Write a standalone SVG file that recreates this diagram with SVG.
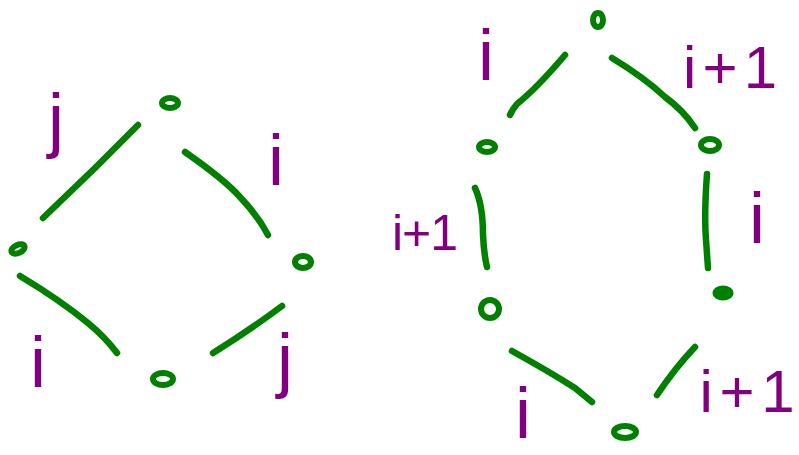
<svg xmlns="http://www.w3.org/2000/svg" width="799" height="455" viewBox="0 0 799 455">
<style>
.node{fill:none;stroke:#008000;stroke-width:6}
.solid{fill:#008000;stroke:#008000;stroke-width:3}
.edge{fill:none;stroke:#008000;stroke-width:6.5;stroke-linecap:round;stroke-linejoin:round}
.lbl{fill:#800080;font-family:"Liberation Sans",Arial,sans-serif;text-anchor:middle}
.big{font-size:72px}
.mid{font-size:60px}
.sm{font-size:50px}
</style>
<rect width="799" height="455" fill="#ffffff"/>
<g id="connectors">
  <path class="edge" d="M138,125 L95,168 L43,218"/>
  <path class="edge" d="M185,152 Q225,180 240,197 Q258,216 268,235"/>
  <path class="edge" d="M20,276 Q60,300 88,323 Q105,337 117,353"/>
  <path class="edge" d="M282,306 Q250,330 213,353"/>
  <path class="edge" d="M565,55 Q537,88 517,104 Q512,110 510,115"/>
  <path class="edge" d="M612,58 Q645,78 665,97 Q683,110 695,128"/>
  <path class="edge" d="M475,188 Q483,205 483,235 Q484,255 487,267"/>
  <path class="edge" d="M707,174 Q704,215 706,240 L708,268"/>
  <path class="edge" d="M512,351 Q550,372 575,388 L592,402"/>
  <path class="edge" d="M695,347 Q675,368 657,395"/>
</g>
<g id="L-top"><ellipse class="node" cx="170" cy="103" rx="8" ry="5"/></g>
<g id="L-left"><ellipse class="node" cx="18" cy="249" rx="7" ry="4" transform="rotate(-25 18 249)"/></g>
<g id="L-right"><ellipse class="node" cx="303" cy="262" rx="8" ry="6"/></g>
<g id="L-bottom"><ellipse class="node" cx="163" cy="379" rx="10" ry="6"/></g>
<g id="R-top"><ellipse class="node" cx="598" cy="20" rx="5" ry="7"/></g>
<g id="R-upper-left"><ellipse class="node" cx="487" cy="147" rx="8" ry="5"/></g>
<g id="R-upper-right"><ellipse class="node" cx="710" cy="145" rx="9" ry="6"/></g>
<g id="R-lower-left"><ellipse class="node" cx="490" cy="309" rx="9" ry="9"/></g>
<g id="R-lower-right"><ellipse class="solid" cx="723" cy="293" rx="9" ry="6"/></g>
<g id="R-bottom"><ellipse class="node" cx="625" cy="432" rx="11" ry="6"/></g>
<g id="labels">
  <text class="lbl big" x="56" y="144">j</text>
  <text class="lbl big" x="276" y="185">i</text>
  <text class="lbl big" x="38" y="387">i</text>
  <text class="lbl big" x="285" y="384">j</text>
  <text class="lbl big" x="486" y="80">i</text>
  <text class="lbl mid" x="730" y="88" textLength="94" lengthAdjust="spacing">i+1</text>
  <text class="lbl sm" x="425" y="250" textLength="66" lengthAdjust="spacing">i+1</text>
  <text class="lbl big" x="757" y="243">i</text>
  <text class="lbl big" x="523" y="438">i</text>
  <text class="lbl mid" x="747" y="412" textLength="95" lengthAdjust="spacing">i+1</text>
</g>
</svg>
